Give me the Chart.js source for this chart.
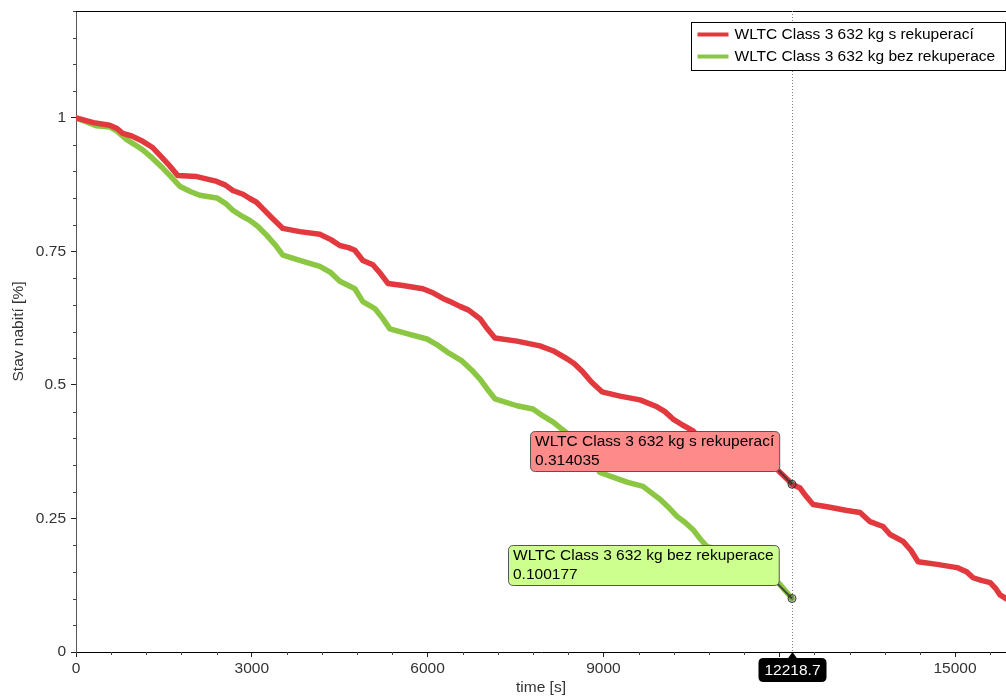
<!DOCTYPE html>
<html lang="cs">
<head>
<meta charset="utf-8">
<title>Stav nabití – WLTC Class 3</title>
<script src="https://cdn.jsdelivr.net/npm/chart.js@4.4.1/dist/chart.umd.min.js"></script>
<style>
    html, body { margin: 0; padding: 0; background: #fff; }
    #wrap { width: 1006px; height: 697px; }
</style>
</head>
<body>
<div id="wrap"><canvas id="socChart" width="1006" height="697"></canvas></div>
<script>
// series names (legend + hover labels)
const seriesNames = ['WLTC Class 3 632 kg s rekuperací', 'WLTC Class 3 632 kg bez rekuperace'];

// with recuperation: time [s] / state of charge
const timeRecup = [0, 300, 575, 700, 797, 950, 1139, 1300, 1429, 1600, 1737, 2061, 2403, 2550, 2676, 2850, 2966, 3080, 3188, 3350,
    3530, 3820, 4160, 4350, 4502, 4650, 4759, 4895, 5066, 5200, 5322, 5578, 5920, 6100, 6262, 6400, 6552, 6700, 6894, 7020,
    7149, 7524, 7917, 8139, 8378, 8500, 8651, 8800, 8976, 9283, 9625, 9915, 10050, 10188, 10350, 10530, 10650, 10800, 11100, 11400,
    11650, 11850, 12000, 12150, 12218.7, 12356, 12470, 12578, 12817, 13158, 13380, 13550, 13772, 13892, 14114, 14250, 14370, 14694, 15035, 15200,
    15308, 15450, 15600, 15700, 15768, 15870];
const socRecup = [1.000, 0.991, 0.986, 0.980, 0.971, 0.966, 0.956, 0.945, 0.930, 0.910, 0.892, 0.890, 0.881, 0.874, 0.864, 0.857, 0.849, 0.842, 0.830, 0.812,
    0.793, 0.787, 0.782, 0.772, 0.761, 0.757, 0.752, 0.733, 0.725, 0.708, 0.690, 0.686, 0.680, 0.672, 0.662, 0.655, 0.647, 0.640, 0.624, 0.605,
    0.588, 0.582, 0.573, 0.564, 0.549, 0.540, 0.524, 0.505, 0.487, 0.479, 0.472, 0.459, 0.450, 0.436, 0.425, 0.414, 0.400, 0.387, 0.381, 0.375,
    0.366, 0.355, 0.338, 0.322, 0.314035, 0.307, 0.290, 0.276, 0.272, 0.265, 0.261, 0.244, 0.235, 0.220, 0.207, 0.190, 0.169, 0.164, 0.158, 0.150,
    0.139, 0.134, 0.130, 0.118, 0.107, 0.100];

// without recuperation
const timeNoRecup = [0, 353, 575, 700, 866, 1000, 1139, 1300, 1480, 1620, 1770, 1950, 2112, 2403, 2550, 2676, 2800, 2966, 3100, 3256,
    3400, 3530, 3820, 4160, 4350, 4502, 4759, 4895, 5100, 5230, 5356, 5646, 5988, 6150, 6329, 6586, 6750, 6894, 7020, 7149,
    7524, 7798, 7969, 8150, 8293, 8500, 8677, 8800, 8941, 9150, 9402, 9676, 9820, 9966, 10100, 10256, 10400, 10530, 10650, 10769,
    11000, 11389, 11600, 11822, 12000, 12218.7];
const socNoRecup = [1.000, 0.985, 0.983, 0.975, 0.959, 0.950, 0.940, 0.925, 0.906, 0.890, 0.872, 0.862, 0.855, 0.850, 0.840, 0.827, 0.818, 0.808, 0.797, 0.780,
    0.762, 0.743, 0.733, 0.722, 0.710, 0.694, 0.680, 0.656, 0.643, 0.625, 0.605, 0.596, 0.586, 0.576, 0.562, 0.545, 0.528, 0.511, 0.492, 0.474,
    0.461, 0.455, 0.442, 0.430, 0.417, 0.400, 0.385, 0.362, 0.336, 0.328, 0.318, 0.310, 0.298, 0.286, 0.272, 0.254, 0.242, 0.229, 0.212, 0.197,
    0.192, 0.180, 0.165, 0.147, 0.128, 0.100177];

// hovered time shown by the crosshair
const crossTime = 12218.7;

// axis ranges and tick steps
const xRange = [0, 15870];
const yRange = [0, 1.2];
const xMajorStep = 3000;
const xMinorStep = 600;
const yMajorStep = 0.25;
const yMinorStep = 0.05;

(() => {
    'use strict';

    const FONT = 'Arial, "Liberation Sans", sans-serif';
    const FONT_SIZE = 15.5;
    const lineColors = ['#e1393e', '#8cc743'];
    const labelFills = ['#ff8a8a', '#ccff8e'];

    function zip(xs, ys)
    {
        return xs.map((t, i) => ({ x: t, y: ys[i] }));
    }

    function isMultiple(v, step)
    {
        const r = v / step;
        return Math.abs(r - Math.round(r)) < 1e-6;
    }

    // major ticks built by hand: Chart.js rounds stepSize when min/max are both fixed
    function stepTicks(min, max, step)
    {
        const out = [];
        for (let i = 0; min + i * step <= max + 1e-9; i++) {
            out.push({ value: Math.round((min + i * step) * 1e6) / 1e6 });
        }
        return out;
    }

    function roundRect(ctx, x, y, w, h, r)
    {
        ctx.beginPath();
        ctx.moveTo(x + r, y);
        ctx.lineTo(x + w - r, y);
        ctx.quadraticCurveTo(x + w, y, x + w, y + r);
        ctx.lineTo(x + w, y + h - r);
        ctx.quadraticCurveTo(x + w, y + h, x + w - r, y + h);
        ctx.lineTo(x + r, y + h);
        ctx.quadraticCurveTo(x, y + h, x, y + h - r);
        ctx.lineTo(x, y + r);
        ctx.quadraticCurveTo(x, y, x + r, y);
        ctx.closePath();
    }

    const overlayPlugin = {
        id: 'overlay',
        afterDatasetsDraw(chart) {
            const { ctx, chartArea: area, scales: { x, y } } = chart;
            ctx.save();

            // top frame line
            ctx.strokeStyle = '#000';
            ctx.lineWidth = 1;
            ctx.beginPath();
            ctx.moveTo(area.left, area.top + 0.5);
            ctx.lineTo(area.right, area.top + 0.5);
            ctx.stroke();

            // minor ticks
            ctx.strokeStyle = '#444';
            ctx.beginPath();
            for (let v = xMinorStep; v < xRange[1]; v += xMinorStep) {
                if (isMultiple(v, xMajorStep)) {
                    continue;
                }
                const px = Math.round(x.getPixelForValue(v)) + 0.5;
                ctx.moveTo(px, area.bottom);
                ctx.lineTo(px, area.bottom + 3);
            }
            for (let v = yMinorStep; v <= yRange[1] + 1e-9; v += yMinorStep) {
                if (isMultiple(v, yMajorStep)) {
                    continue;
                }
                const py = Math.round(y.getPixelForValue(v)) + 0.5;
                ctx.moveTo(area.left - 3, py);
                ctx.lineTo(area.left, py);
            }
            ctx.stroke();

            // crosshair
            const cx = Math.round(x.getPixelForValue(crossTime)) + 0.5;
            ctx.strokeStyle = '#808080';
            ctx.setLineDash([1, 2]);
            ctx.beginPath();
            ctx.moveTo(cx, area.top);
            ctx.lineTo(cx, area.bottom);
            ctx.stroke();
            ctx.setLineDash([]);

            // hover labels
            ctx.font = FONT_SIZE + 'px ' + FONT;
            ctx.textBaseline = 'middle';
            chart.data.datasets.forEach((ds, i) => {
                const pt = ds.data.find(p => p.x === crossTime);
                if (!pt) {
                    return;
                }
                const px = x.getPixelForValue(pt.x);
                const py = y.getPixelForValue(pt.y);
                const value = String(pt.y);
                const w = Math.max(ctx.measureText(ds.label).width, ctx.measureText(value).width) + 10;
                const h = 40;
                const bx = Math.round(px - 13 - w);
                const by = Math.round(py - 13 - h);

                ctx.strokeStyle = 'rgba(50,50,50,0.8)';
                ctx.lineWidth = 2;
                ctx.beginPath();
                ctx.moveTo(bx + w - 3, by + h - 3);
                ctx.lineTo(px, py);
                ctx.stroke();

                roundRect(ctx, bx + 0.5, by + 0.5, w, h, 5);
                ctx.fillStyle = labelFills[i];
                ctx.fill();
                ctx.lineWidth = 1;
                ctx.strokeStyle = '#555';
                ctx.stroke();

                ctx.fillStyle = '#000';
                ctx.textAlign = 'left';
                ctx.fillText(ds.label, bx + 5, by + 11);
                ctx.fillText(value, bx + 5, by + 30);

                ctx.beginPath();
                ctx.arc(px, py, 4, 0, Math.PI * 2);
                ctx.fillStyle = 'rgba(0,0,0,0.15)';
                ctx.fill();
                ctx.strokeStyle = '#333';
                ctx.lineWidth = 1;
                ctx.stroke();
            });
            ctx.restore();
        },
        afterDraw(chart) {
            const { ctx, chartArea: area, scales: { x } } = chart;
            ctx.save();

            // legend box
            const lx = 691.5, ly = 22.5, lw = 314, lh = 48;
            ctx.fillStyle = '#fff';
            ctx.fillRect(lx, ly, lw, lh);
            ctx.strokeStyle = '#000';
            ctx.lineWidth = 1;
            ctx.strokeRect(lx, ly, lw, lh);
            ctx.font = FONT_SIZE + 'px ' + FONT;
            ctx.textBaseline = 'middle';
            ctx.textAlign = 'left';
            chart.data.datasets.forEach((ds, i) => {
                const rowY = ly + 12 + i * 22;
                ctx.strokeStyle = ds.borderColor;
                ctx.lineWidth = 4;
                ctx.beginPath();
                ctx.moveTo(lx + 6, rowY);
                ctx.lineTo(lx + 37, rowY);
                ctx.stroke();
                ctx.fillStyle = '#000';
                ctx.fillText(ds.label, lx + 43, rowY);
            });

            // x value badge
            const cx = Math.round(x.getPixelForValue(crossTime)) + 0.5;
            const text = String(crossTime);
            const tw = ctx.measureText(text).width + 12;
            const top = area.bottom + 6;
            ctx.fillStyle = '#000';
            ctx.beginPath();
            ctx.moveTo(cx, area.bottom);
            ctx.lineTo(cx + 5, top + 1);
            ctx.lineTo(cx - 5, top + 1);
            ctx.closePath();
            ctx.fill();
            roundRect(ctx, cx - tw / 2, top, tw, 24, 5);
            ctx.fill();
            ctx.fillStyle = '#fff';
            ctx.textAlign = 'center';
            ctx.fillText(text, cx, top + 12.5);
            ctx.restore();
        }
    };

    const tickFont = { family: FONT, size: FONT_SIZE };
    const ctx = document.getElementById('socChart').getContext('2d');
    new Chart(ctx, {
        type: 'line',
        data: {
            datasets: [
                { label: seriesNames[0], data: zip(timeRecup, socRecup), borderColor: lineColors[0], backgroundColor: lineColors[0] },
                { label: seriesNames[1], data: zip(timeNoRecup, socNoRecup), borderColor: lineColors[1], backgroundColor: lineColors[1] }
            ]
        },
        options: {
            responsive: false,
            animation: false,
            parsing: false,
            layout: { padding: { top: 11, right: 0, left: 0, bottom: 0 } },
            elements: {
                point: { radius: 0, hoverRadius: 0 },
                line: { borderWidth: 5.5, tension: 0, borderJoinStyle: 'round', borderCapStyle: 'round' }
            },
            plugins: {
                legend: { display: false },
                tooltip: { enabled: false }
            },
            events: [],
            scales: {
                x: {
                    type: 'linear',
                    min: xRange[0],
                    max: xRange[1],
                    border: { color: '#000', width: 1 },
                    grid: { drawOnChartArea: false, tickLength: 5, tickColor: '#222' },
                    ticks: {
                        autoSkip: false,
                        maxRotation: 0,
                        padding: 2,
                        color: '#333',
                        font: tickFont,
                        callback: v => String(v)
                    },
                    afterBuildTicks: s => { s.ticks = stepTicks(xRange[0], xRange[1], xMajorStep); },
                    title: { display: true, text: 'time [s]', color: '#333', font: tickFont, padding: { top: 0, bottom: 0 } },
                    afterFit: s => { s.height = 45; }
                },
                y: {
                    type: 'linear',
                    min: yRange[0],
                    max: yRange[1],
                    border: { color: '#555', width: 1 },
                    grid: { drawOnChartArea: false, tickLength: 5, tickColor: '#222' },
                    ticks: {
                        autoSkip: false,
                        padding: 5,
                        color: '#333',
                        font: tickFont,
                        callback: v => String(v)
                    },
                    afterBuildTicks: s => { s.ticks = stepTicks(yRange[0], yRange[1], yMajorStep); },
                    title: { display: true, text: 'Stav nabití [%]', color: '#333', font: tickFont, padding: { top: 9, bottom: 0 } },
                    afterFit: s => { s.width = 76; s.paddingTop = 0; s.paddingBottom = 0; }
                }
            }
        },
        plugins: [overlayPlugin]
    });
})();
</script>
</body>
</html>
